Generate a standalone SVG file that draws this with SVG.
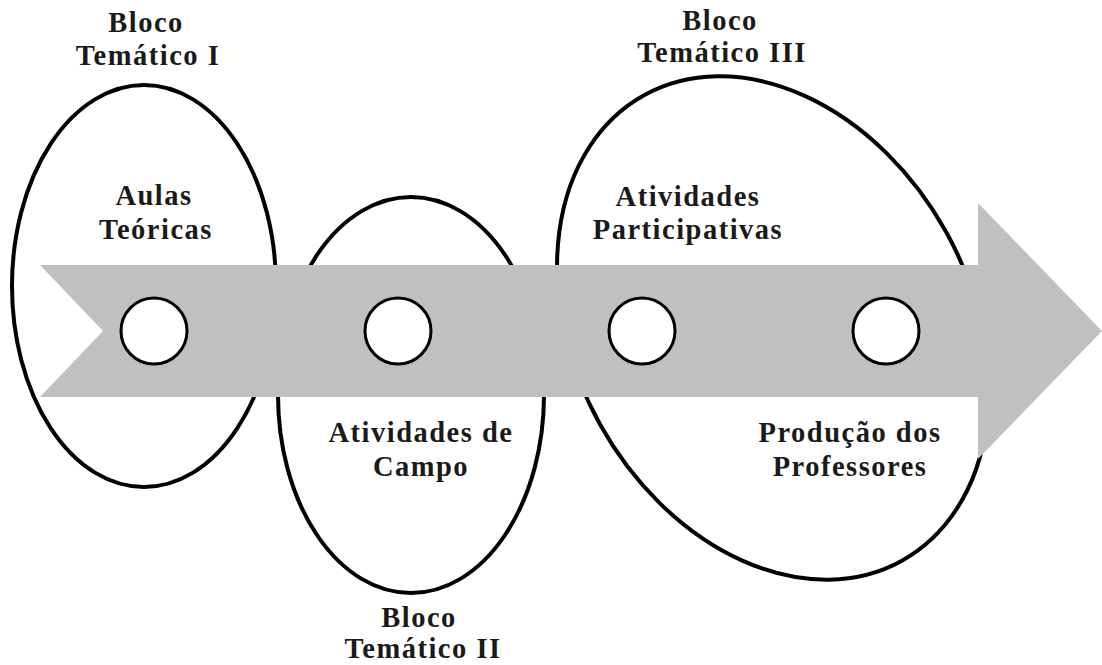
<svg xmlns="http://www.w3.org/2000/svg" width="1102" height="665" viewBox="0 0 1102 665">
  <style>
    .blk { fill: none; stroke: #000; stroke-width: 4; }
    .dot { fill: #fff; stroke: #000; stroke-width: 3; }
    .arrow { fill: #c0c0c0; stroke: none; }
    text { font-family: "Liberation Serif", "Times New Roman", serif; font-weight: bold; font-size: 28.5px; fill: #1a1a1a; text-anchor: middle; letter-spacing: 1.5px; }
  </style>
  <rect width="1102" height="665" fill="#fff"/>
  <g id="bloco1">
    <ellipse class="blk" cx="144" cy="286" rx="132" ry="201"/>
  </g>
  <g id="bloco2">
    <ellipse class="blk" cx="411" cy="395" rx="133" ry="198"/>
  </g>
  <g id="bloco3">
    <ellipse class="blk" cx="773" cy="328" rx="198" ry="266" transform="rotate(-29 773 328)"/>
  </g>
  <g id="connectors">
    <path class="arrow" d="M40,265 L978,265 L978,203 L1102,331 L978,459 L978,397 L40,397 L103,331 Z"/>
  </g>
  <g id="etapa1"><circle class="dot" cx="154" cy="331" r="33"/></g>
  <g id="etapa2"><circle class="dot" cx="398" cy="331" r="33"/></g>
  <g id="etapa3"><circle class="dot" cx="642" cy="331" r="33"/></g>
  <g id="etapa4"><circle class="dot" cx="886" cy="331" r="33"/></g>
  <g id="labels">
    <text x="146" y="32">Bloco</text>
    <text x="148" y="65">Temático I</text>
    <text x="154" y="205">Aulas</text>
    <text x="156" y="239">Teóricas</text>
    <text x="421" y="442">Atividades de</text>
    <text x="421" y="476">Campo</text>
    <text x="419" y="627">Bloco</text>
    <text x="423" y="658">Temático II</text>
    <text x="720" y="30">Bloco</text>
    <text x="722" y="62">Temático III</text>
    <text x="688" y="206">Atividades</text>
    <text x="688" y="239">Participativas</text>
    <text x="850" y="442">Produção dos</text>
    <text x="850" y="476">Professores</text>
  </g>
</svg>
